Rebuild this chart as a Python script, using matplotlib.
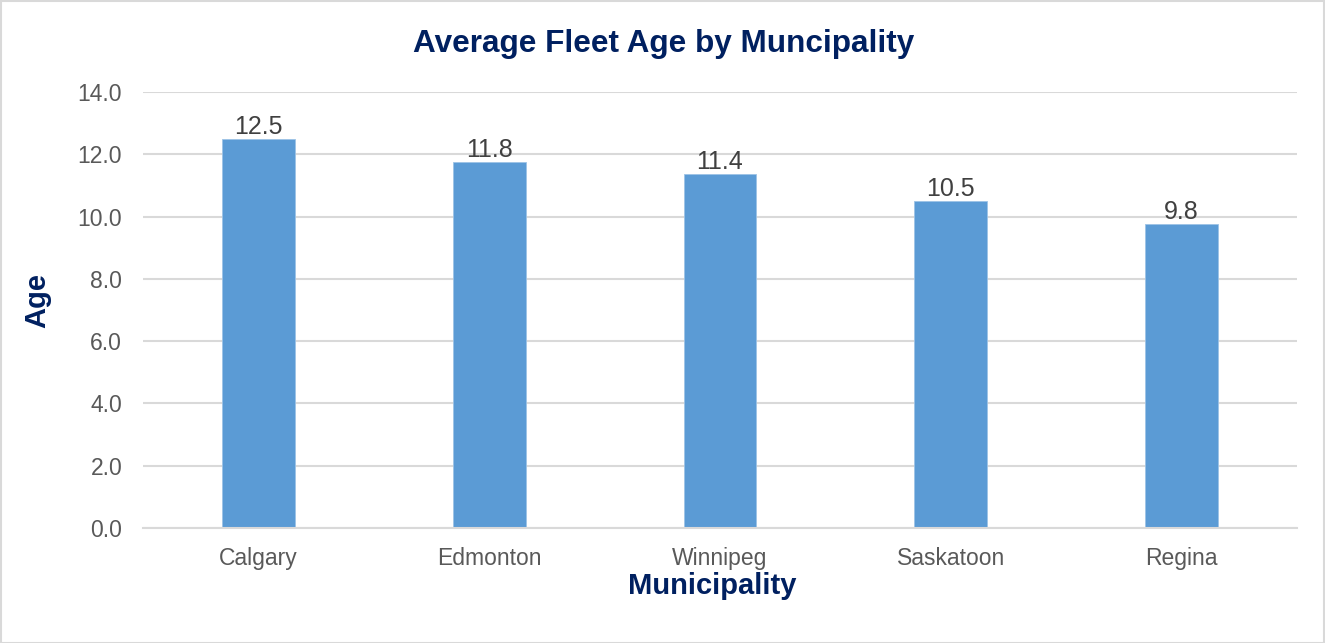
import matplotlib
matplotlib.use("Agg")
import matplotlib.pyplot as plt
from matplotlib.patches import Rectangle

categories = ["Calgary", "Edmonton", "Winnipeg", "Saskatoon", "Regina"]
ages = [12.5, 11.76, 11.36, 10.5, 9.76]
yticks = [0, 2, 4, 6, 8, 10, 12, 14]

plt.rcParams['font.family'] = ['Liberation Sans', 'DejaVu Sans']
W, H = 1325, 643
fig = plt.figure(figsize=(W / 100, H / 100), dpi=100)
fig.patch.set_facecolor("white")
fig.patches.append(Rectangle((0.5 / W, 0.5 / H), 1 - 1.5 / W, 1 - 1.5 / H, transform=fig.transFigure,
                             fill=False, edgecolor="#D9D9D9", linewidth=1.5))

left, right = 143 / W, 1297 / W
bottom, top = 1 - 528 / H, 1 - 92 / H
ax = fig.add_axes([left, bottom, right - left, top - bottom])

x = list(range(len(categories)))
bars = ax.bar(x, ages, width=0.316, color="#5B9BD5", edgecolor="#9DC3E6", linewidth=0.6, zorder=3)
ax.set_xlim(-0.5, len(categories) - 0.5)
ax.set_ylim(0, 14)
ax.set_yticks(yticks)
ax.set_yticklabels([f"{v:.1f}" for v in yticks], fontsize=16.5, color="#595959")
ax.set_xticks(x)
ax.set_xticklabels(categories, fontsize=16.5, color="#595959")
ax.tick_params(axis='both', length=0)
ax.tick_params(axis='y', pad=15)
ax.tick_params(axis='x', pad=14)
ax.grid(axis='y', color="#D9D9D9", linewidth=1.5, zorder=0)
for s in ["top", "right", "left"]:
    ax.spines[s].set_visible(False)
ax.spines["bottom"].set_color("#D9D9D9")
ax.spines["bottom"].set_linewidth(1.5)
ax.spines["bottom"].set_zorder(4)

for rect, v in zip(bars, ages):
    ax.annotate(f"{v:.1f}", (rect.get_x() + rect.get_width() / 2, v), xytext=(0, 0),
                textcoords="offset points", ha="center", va="bottom", fontsize=18, color="#404040")

navy = "#002060"
fig.text(664 / W, 1 - 44 / H, "Average Fleet Age by Muncipality", ha="center", va="center",
         fontsize=22.7, fontweight="bold", color=navy)
fig.text(712 / W, 1 - 586 / H, "Municipality", ha="center", va="center",
         fontsize=21, fontweight="bold", color=navy)
fig.text(37 / W, 1 - 300 / H, "Age", ha="center", va="center", rotation=90,
         fontsize=21, fontweight="bold", color=navy)

fig.savefig("out.png", dpi=100)
